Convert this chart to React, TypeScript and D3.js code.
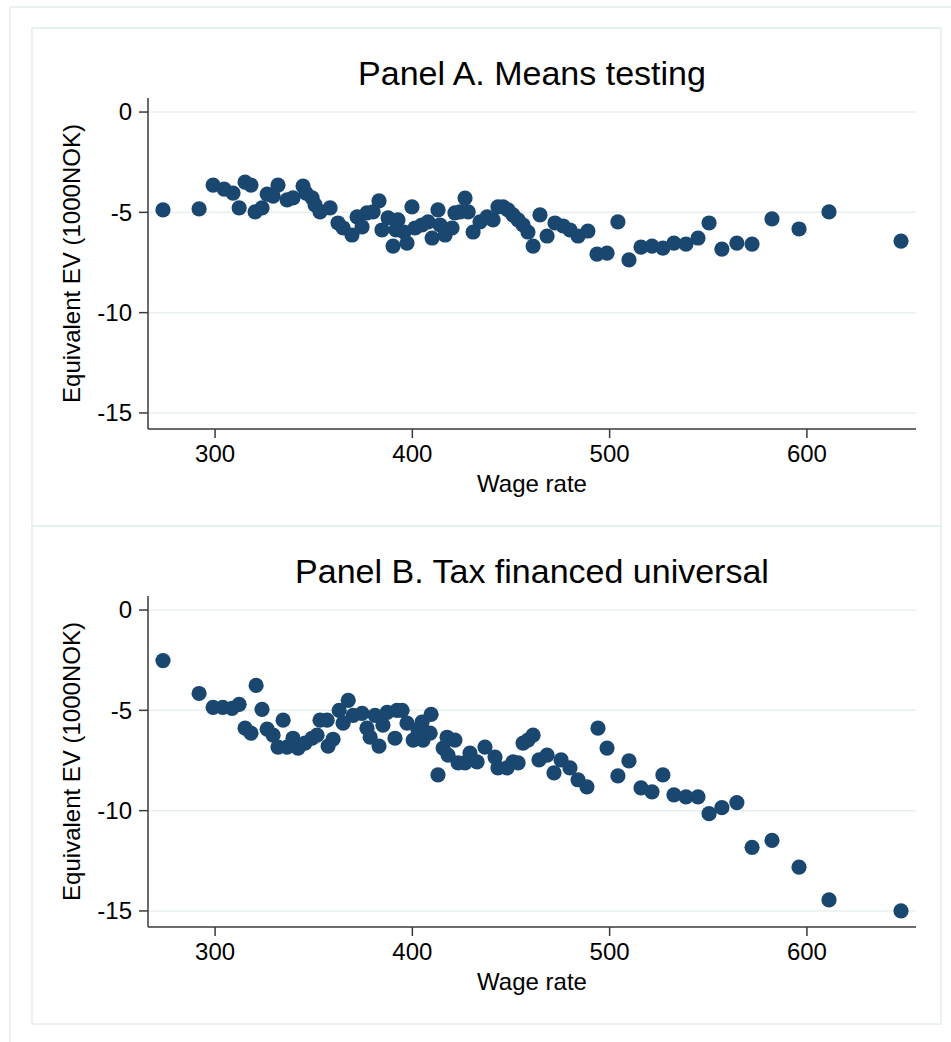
import React from "react";
import * as d3 from "d3";

// Panel A: Means testing (wage rate, equivalent EV in 1000 NOK)
const wageA = [273.6, 291.9, 299.0, 304.6, 309.1, 312.2, 315.2, 318.2, 320.3, 323.8, 326.4, 329.4, 331.9, 336.5, 339.5, 344.6, 346.1, 349.2, 350.7, 353.2, 358.3, 362.3, 364.9, 369.4, 372.0, 374.5, 377.0, 380.1, 383.1, 384.6, 387.7, 390.2, 391.7, 392.7, 395.8, 397.3, 399.8, 401.4, 404.9, 408.0, 410.0, 413.0, 414.0, 416.6, 420.1, 421.6, 424.2, 426.7, 428.3, 430.8, 434.3, 437.9, 440.9, 443.4, 446.0, 448.5, 451.0, 453.6, 456.1, 458.6, 461.2, 464.7, 468.3, 472.3, 476.4, 479.9, 484.0, 489.0, 493.6, 498.7, 504.2, 509.8, 515.9, 521.5, 527.0, 532.6, 538.7, 544.8, 550.4, 556.9, 564.5, 572.2, 582.3, 596.0, 611.2, 647.7];
const evA = [-4.88, -4.83, -3.64, -3.84, -4.04, -4.78, -3.49, -3.64, -4.98, -4.78, -4.09, -4.19, -3.64, -4.38, -4.28, -3.69, -4.04, -4.28, -4.63, -4.98, -4.78, -5.53, -5.78, -6.13, -5.23, -5.73, -5.03, -4.98, -4.43, -5.88, -5.28, -6.68, -5.88, -5.38, -5.98, -6.53, -4.73, -5.78, -5.63, -5.48, -6.28, -4.88, -5.63, -6.13, -5.78, -5.03, -4.98, -4.29, -4.98, -5.98, -5.48, -5.23, -5.38, -4.73, -4.73, -4.88, -5.13, -5.38, -5.63, -5.98, -6.68, -5.13, -6.18, -5.53, -5.68, -5.88, -6.18, -5.93, -7.08, -7.03, -5.48, -7.37, -6.73, -6.68, -6.78, -6.53, -6.58, -6.28, -5.53, -6.83, -6.53, -6.58, -5.33, -5.83, -4.98, -6.43];

// Panel B: Tax financed universal
const wageB = [273.6, 291.9, 299.0, 303.9, 308.6, 312.2, 315.2, 318.2, 320.8, 323.8, 326.4, 329.4, 331.9, 334.5, 336.5, 339.5, 342.1, 345.6, 349.2, 351.7, 353.2, 356.8, 357.3, 359.8, 362.9, 364.9, 367.5, 370.0, 374.5, 377.0, 378.6, 381.1, 383.1, 385.1, 387.2, 391.2, 392.2, 394.8, 397.3, 400.4, 402.9, 404.9, 405.4, 409.5, 409.0, 413.0, 415.6, 417.6, 418.1, 421.6, 423.2, 426.7, 429.2, 432.8, 436.8, 441.9, 443.4, 448.0, 451.0, 453.6, 456.1, 458.6, 461.2, 464.2, 468.3, 471.8, 475.4, 479.9, 484.0, 488.5, 494.1, 498.7, 504.2, 509.8, 515.9, 521.5, 527.0, 532.6, 538.7, 544.8, 550.4, 556.9, 564.5, 572.2, 582.3, 596.0, 611.2, 647.7];
const evB = [-2.52, -4.16, -4.85, -4.85, -4.90, -4.70, -5.89, -6.14, -3.76, -4.95, -5.94, -6.24, -6.83, -5.49, -6.83, -6.39, -6.88, -6.63, -6.39, -6.24, -5.49, -5.49, -6.78, -6.44, -5.00, -5.64, -4.50, -5.25, -5.15, -5.89, -6.34, -5.25, -6.78, -5.74, -5.10, -6.39, -5.00, -5.00, -5.64, -6.48, -5.99, -5.59, -6.48, -5.20, -6.14, -8.22, -6.88, -6.34, -7.23, -6.48, -7.62, -7.62, -7.13, -7.57, -6.83, -7.33, -7.87, -7.87, -7.57, -7.62, -6.63, -6.48, -6.24, -7.47, -7.23, -8.12, -7.47, -7.87, -8.46, -8.81, -5.89, -6.88, -8.27, -7.52, -8.86, -9.06, -8.22, -9.21, -9.31, -9.31, -10.15, -9.85, -9.60, -11.83, -11.48, -12.82, -14.45, -15.00];

const xTicks = [300, 400, 500, 600];
const yTicks = [0, -5, -10, -15];
const titles = ["Panel A. Means testing", "Panel B. Tax financed universal"];
const xTitle = "Wage rate";
const yTitle = "Equivalent EV (1000NOK)";

const FONT = "'Liberation Sans', Arial, Helvetica, sans-serif";
const NAVY = "#1a476f";
const FRAME = "#e4eded";
const GRID = "#e8eff1";
const AXIS = "#3a3a3a";

function Panel({ wage, ev, title, offsetY }: { wage: number[]; ev: number[]; title: string; offsetY: number }) {
  const left = 148, right = 916, top = 98, bottom = 429;
  const x = d3.scaleLinear().domain([266, 655.3]).range([left, right]);
  const y = d3.scaleLinear().domain([-15.8, 0.7]).range([bottom, top]);
  const pts = wage.map((w, i) => ({ w, e: ev[i] }));
  return (
    <g transform={`translate(0,${offsetY})`}>
      <rect x={32} y={28} width={909} height={498} fill="white" stroke={FRAME} strokeWidth={1.5} />
      <text x={(left + right) / 2} y={85} textAnchor="middle" fontSize={34} fontFamily={FONT} fill="#000">{title}</text>
      {yTicks.map((t) => (
        <line key={"g" + t} x1={left} x2={right} y1={y(t)} y2={y(t)} stroke={GRID} strokeWidth={1.5} />
      ))}
      <line x1={left} x2={left} y1={top} y2={bottom} stroke={AXIS} strokeWidth={1.5} />
      <line x1={left} x2={right} y1={bottom} y2={bottom} stroke={AXIS} strokeWidth={1.5} />
      {yTicks.map((t) => (
        <g key={"y" + t}>
          <line x1={left - 9} x2={left} y1={y(t)} y2={y(t)} stroke={AXIS} strokeWidth={1.5} />
          <text x={132} y={y(t)} dy="0.35em" textAnchor="end" fontSize={24} fontFamily={FONT} fill="#000">{t}</text>
        </g>
      ))}
      {xTicks.map((t) => (
        <g key={"x" + t}>
          <line x1={x(t)} x2={x(t)} y1={bottom} y2={bottom + 9} stroke={AXIS} strokeWidth={1.5} />
          <text x={x(t)} y={462} textAnchor="middle" fontSize={24} fontFamily={FONT} fill="#000">{t}</text>
        </g>
      ))}
      <text x={(left + right) / 2} y={492} textAnchor="middle" fontSize={24} fontFamily={FONT} fill="#000">{xTitle}</text>
      <text transform={`translate(80,${(top + bottom) / 2}) rotate(-90)`} textAnchor="middle" fontSize={24} fontFamily={FONT} fill="#000">{yTitle}</text>
      {pts.map((p, i) => (
        <circle key={i} cx={x(p.w)} cy={y(p.e)} r={7.6} fill={NAVY} />
      ))}
    </g>
  );
}

export default function App() {
  return (
    <svg width={951} height={1042} style={{ position: "absolute", left: 0, top: 0, background: "white" }}>
      <rect x={0} y={0} width={951} height={1042} fill="white" />
      <rect x={10} y={7} width={980} height={1080} fill="white" stroke={FRAME} strokeWidth={1.5} />
      <Panel wage={wageA} ev={evA} title={titles[0]} offsetY={0} />
      <Panel wage={wageB} ev={evB} title={titles[1]} offsetY={498} />
    </svg>
  );
}
